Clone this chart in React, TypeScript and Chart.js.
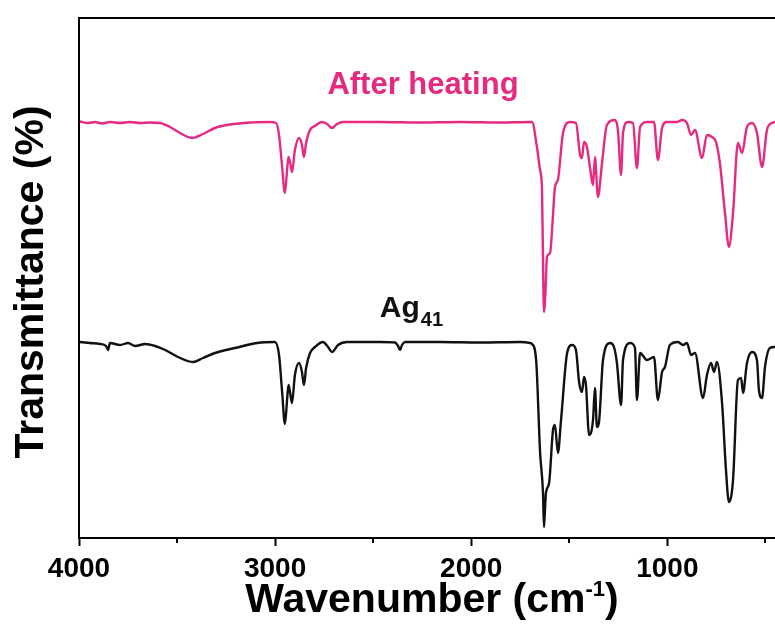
import React, { useEffect, useRef } from "react";
import { Chart, registerables } from "chart.js";

Chart.register(...registerables);

// ---- Data ----
const heatedWavenumbers = [
  3995, 3954, 3918, 3883, 3842, 3791, 3740, 3689, 3638, 3587,
  3536, 3485, 3424, 3368, 3307, 3230, 3128, 3026, 2995,
  2980, 2965, 2950, 2939, 2932, 2924, 2914, 2899, 2878, 2863, 2853, 2842, 2822, 2797, 2761, 2735, 2710, 2684, 2654,
  2465, 2261, 2057, 1853, 1700,
  1690, 1665, 1649, 1639, 1634, 1629, 1621, 1614, 1598, 1583, 1573, 1558, 1532, 1496, 1466,
  1445, 1435, 1425, 1410, 1394, 1379, 1369, 1354, 1333, 1308, 1267, 1252, 1236, 1226, 1201,
  1175, 1155, 1139, 1104, 1068, 1048, 1027, 1002, 951, 925, 900, 879, 859, 823, 798, 772,
  752, 732, 706, 686, 665, 640, 619, 594, 568, 543, 517, 492, 467, 441, 400,
];
const heatedT = [
  83.3, 83.0, 83.2, 82.9, 83.2, 83.0, 83.2, 83.0, 83.1, 83.0,
  82.2, 81.0, 80.0, 80.8, 82.0, 82.7, 83.1, 83.2, 83.0,
  80.6, 74.6, 69.0, 73.6, 76.2, 75.2, 73.2, 77.6, 80.0, 78.6, 76.2, 79.0, 81.6, 82.4, 83.2, 82.8, 82.0, 82.8, 83.2,
  83.2, 83.1, 83.2, 83.1, 83.2,
  83.2, 78.2, 73.6, 69.6, 55.6, 45.2, 49.6, 56.2, 57.0, 64.6, 70.2, 71.6, 81.0, 83.2, 83.0,
  76.6, 76.0, 79.2, 78.2, 74.0, 70.6, 76.2, 68.2, 75.0, 82.6, 83.6, 81.6, 72.6, 81.0, 83.2,
  83.0, 74.0, 82.2, 83.2, 83.2, 75.6, 82.0, 83.2, 83.2, 83.6, 83.0, 80.6, 81.6, 76.0, 80.6, 80.2,
  79.2, 75.0, 65.0, 58.2, 65.0, 79.0, 77.0, 82.2, 83.0, 81.0, 74.2, 81.6, 83.0, 83.2, 83.2,
];

const ag41Wavenumbers = [
  3995, 3944, 3893, 3862, 3852, 3842, 3791, 3750, 3714, 3663, 3612,
  3561, 3495, 3419, 3368, 3307, 3205, 3092, 3001,
  2980, 2965, 2950, 2939, 2932, 2924, 2914, 2899, 2878, 2863, 2853, 2842, 2822, 2797, 2756, 2730, 2710, 2679, 2633,
  2465, 2389, 2373, 2363, 2353, 2337, 2159, 1955, 1751, 1700,
  1690, 1669, 1649, 1634, 1629, 1624, 1619, 1603, 1583, 1573, 1558, 1542, 1511, 1486, 1466,
  1450, 1435, 1425, 1415, 1399, 1379, 1369, 1359, 1349, 1328, 1292, 1272, 1257, 1236, 1226, 1190,
  1165, 1155, 1139, 1104, 1068, 1048, 1027, 1012, 987, 946, 920, 900, 879, 859, 818, 798, 777, 762, 747,
  721, 701, 686, 665, 640, 624, 614, 594, 568, 543, 533, 517, 502, 477, 451, 400,
];
const ag41T = [
  39.2, 39.0, 38.8, 38.4, 37.6, 39.0, 38.6, 39.0, 38.4, 38.8, 38.4,
  37.6, 36.2, 35.2, 36.0, 37.0, 38.0, 39.0, 39.2,
  36.6, 29.6, 22.8, 27.6, 30.6, 29.2, 27.0, 32.6, 35.0, 33.2, 30.6, 34.0, 37.0, 38.2, 39.2, 38.2, 37.2, 38.6, 39.2,
  39.2, 39.1, 38.4, 37.6, 38.6, 39.2, 39.2, 39.1, 39.2, 39.0,
  38.8, 35.6, 17.2, 9.0, 2.2, 5.6, 9.0, 11.0, 21.6, 22.6, 17.0, 23.6, 37.0, 38.6, 37.6,
  31.2, 29.2, 32.2, 30.6, 20.6, 23.6, 30.0, 22.2, 23.0, 35.6, 39.0, 38.2, 35.0, 26.6, 35.6, 39.0,
  38.0, 27.6, 37.0, 35.6, 36.2, 27.6, 33.2, 34.2, 38.6, 39.2, 38.6, 39.0, 36.6, 37.0, 28.0, 32.6, 35.0, 33.2, 35.2,
  27.0, 13.6, 7.2, 11.6, 31.6, 32.0, 29.0, 35.0, 37.2, 35.6, 29.6, 28.0, 34.2, 38.0, 38.2, 38.4,
];

const seriesNames = ["After heating", "Ag41"];
const seriesColors = ["#e62a80", "#111111"];

const majorTicks = [4000, 3000, 2000, 1000];
const minorTicks = [3500, 2500, 1500, 500];

const labelMain = ["After heating", "Ag"];
const labelSub = ["", "41"];
const labelWn = [2246, 2305];
const labelT = [88.8, 44.2];

const xTitle = "Wavenumber (cm";
const xTitleSup = "-1";
const yTitle = "Transmittance (%)";

const FONT = "'Liberation Sans', Arial, Helvetica, sans-serif";

const decorPlugin = {
  id: "decor",
  afterDraw(chart: any) {
    const { ctx, chartArea } = chart;
    const xs = chart.scales.x;
    const ys = chart.scales.y;
    ctx.save();
    // top border
    ctx.strokeStyle = "#000";
    ctx.lineWidth = 2;
    ctx.beginPath();
    ctx.moveTo(chartArea.left - 1, chartArea.top);
    ctx.lineTo(chartArea.right, chartArea.top);
    ctx.stroke();
    // minor ticks
    minorTicks.forEach((v) => {
      const px = Math.round(xs.getPixelForValue(v));
      ctx.beginPath();
      ctx.moveTo(px, chartArea.bottom);
      ctx.lineTo(px, chartArea.bottom + 5);
      ctx.stroke();
    });
    // series labels
    labelMain.forEach((txt, i) => {
      const cx = xs.getPixelForValue(labelWn[i]);
      const by = ys.getPixelForValue(labelT[i]);
      ctx.fillStyle = seriesColors[i];
      const mainSize = i === 0 ? 31 : 30;
      ctx.font = `bold ${mainSize}px ${FONT}`;
      const w1 = ctx.measureText(txt).width;
      let w2 = 0;
      if (labelSub[i]) {
        ctx.font = `bold 20px ${FONT}`;
        w2 = ctx.measureText(labelSub[i]).width + 1;
      }
      const left = cx - (w1 + w2) / 2;
      ctx.textBaseline = "alphabetic";
      ctx.textAlign = "left";
      ctx.font = `bold ${mainSize}px ${FONT}`;
      ctx.fillText(txt, left, by);
      if (labelSub[i]) {
        ctx.font = `bold 20px ${FONT}`;
        ctx.fillText(labelSub[i], left + w1 + 1, by + 9);
      }
    });
    // x title
    ctx.fillStyle = "#000";
    ctx.font = `bold 41px ${FONT}`;
    const tw = ctx.measureText(xTitle).width;
    ctx.font = `bold 22px ${FONT}`;
    const sw = ctx.measureText(xTitleSup).width;
    ctx.font = `bold 41px ${FONT}`;
    const pw = ctx.measureText(")").width;
    const total = tw + sw + pw;
    const x0 = 432 - total / 2;
    ctx.textAlign = "left";
    ctx.textBaseline = "alphabetic";
    ctx.fillText(xTitle, x0, 612);
    ctx.font = `bold 22px ${FONT}`;
    ctx.fillText(xTitleSup, x0 + tw, 596);
    ctx.font = `bold 41px ${FONT}`;
    ctx.fillText(")", x0 + tw + sw, 612);
    // y title
    ctx.save();
    ctx.translate(43, 282);
    ctx.rotate(-Math.PI / 2);
    ctx.font = `bold 41px ${FONT}`;
    ctx.textAlign = "center";
    ctx.textBaseline = "alphabetic";
    ctx.fillText(yTitle, 0, 0);
    ctx.restore();
    ctx.restore();
  },
};

export default function App() {
  const ref = useRef<HTMLCanvasElement | null>(null);

  useEffect(() => {
    const canvas = ref.current;
    if (!canvas) return;
    const heatedData = heatedWavenumbers.map((x, i) => ({ x, y: heatedT[i] }));
    const agData = ag41Wavenumbers.map((x, i) => ({ x, y: ag41T[i] }));
    const chart = new Chart(canvas, {
      type: "line",
      data: {
        datasets: [
          {
            label: seriesNames[0],
            data: heatedData,
            borderColor: seriesColors[0],
            borderWidth: 2.4,
            pointRadius: 0,
            cubicInterpolationMode: "monotone",
            fill: false,
          },
          {
            label: seriesNames[1],
            data: agData,
            borderColor: seriesColors[1],
            borderWidth: 2.4,
            pointRadius: 0,
            cubicInterpolationMode: "monotone",
            fill: false,
          },
        ],
      },
      options: {
        responsive: false,
        animation: false,
        devicePixelRatio: 1,
        layout: { padding: { top: 18, right: 15, left: 0, bottom: 0 } },
        plugins: {
          legend: { display: false },
          tooltip: { enabled: false },
        },
        scales: {
          x: {
            type: "linear",
            reverse: true,
            min: 400,
            max: 4000,
            afterBuildTicks: (scale: any) => {
              scale.ticks = [...majorTicks].map((v) => ({ value: v }));
            },
            afterFit: (scale: any) => {
              scale.height = 92;
            },
            grid: {
              display: true,
              drawOnChartArea: false,
              drawTicks: true,
              tickLength: 8,
              tickWidth: 2,
              tickColor: "#000",
            },
            border: { display: true, color: "#000", width: 2 },
            ticks: {
              padding: 6,
              color: "#000",
              maxRotation: 0,
              autoSkip: false,
              font: { family: FONT, size: 28, weight: "bold" },
              callback: (v: any) => String(v),
            },
          },
          y: {
            type: "linear",
            min: 0,
            max: 104,
            afterFit: (scale: any) => {
              scale.width = 79;
            },
            grid: { display: false },
            border: { display: true, color: "#000", width: 2 },
            ticks: { display: false },
          },
        },
      },
      plugins: [decorPlugin],
    });
    return () => chart.destroy();
  }, []);

  return (
    <div
      style={{
        position: "absolute",
        left: 0,
        top: 0,
        width: 775,
        height: 630,
        overflow: "hidden",
        background: "#fff",
      }}
    >
      <canvas ref={ref} width={800} height={630} style={{ display: "block", width: 800, height: 630 }} />
    </div>
  );
}
